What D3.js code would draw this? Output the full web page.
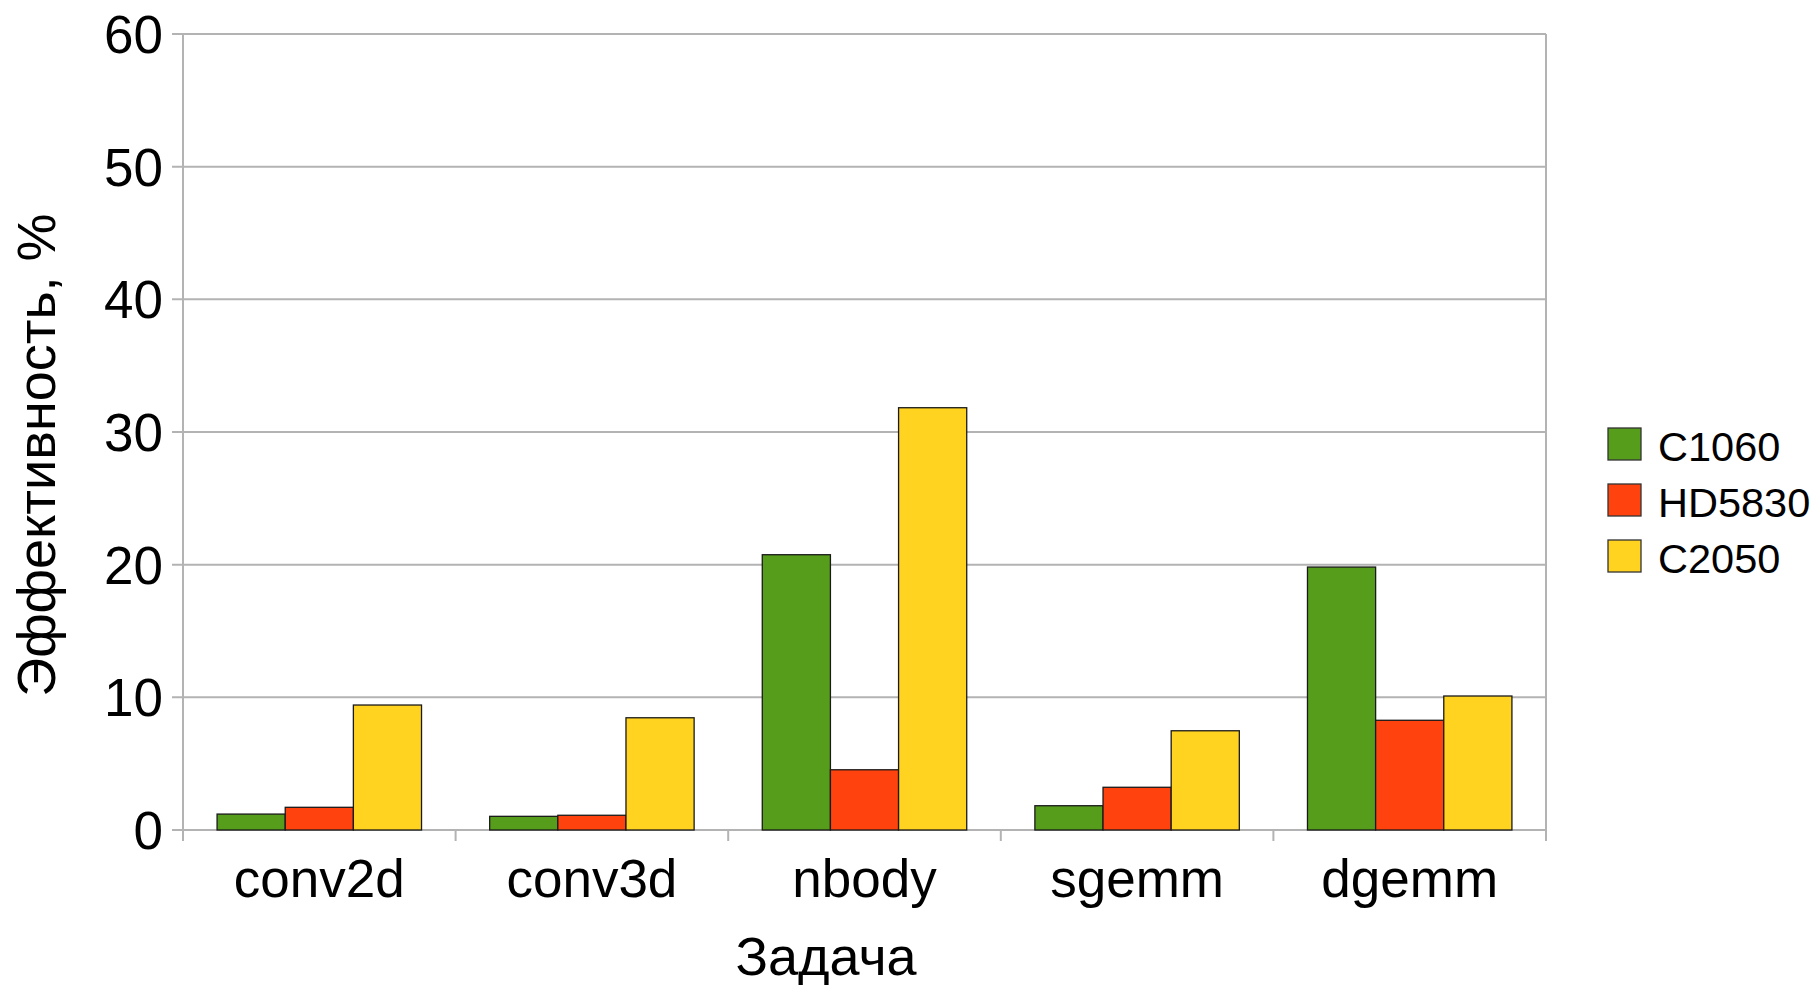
<!DOCTYPE html>
<html>
<head>
<meta charset="utf-8">
<script src="https://cdn.jsdelivr.net/npm/d3@7"></script>
<style>
	body{margin:0;background:#fff;}
	svg{display:block;font-family:"Liberation Sans",Arial,sans-serif;}
</style>
</head>
<body>
<svg id="myGraph" width="1818" height="985"></svg>
<script>
var tasks = ["conv2d","conv3d","nbody","sgemm","dgemm"];
var seriesNames = ["C1060","HD5830","C2050"];
var c1060 = [1.2, 1.03, 20.75, 1.83, 19.82];
var hd5830 = [1.71, 1.11, 4.54, 3.22, 8.27];
var c2050 = [9.42, 8.46, 31.83, 7.48, 10.1];
var yTicks = [0,10,20,30,40,50,60];
var colors = ["#579d1c","#ff420e","#ffd320"];

var seriesValues = [c1060, hd5830, c2050];

var svg = d3.select("#myGraph");
var plotLeft = 183, plotRight = 1546, plotTop = 34, plotBottom = 830;

var x = d3.scaleBand().domain(tasks).range([plotLeft,plotRight]).paddingInner(0.25).paddingOuter(0.125);
var xs = d3.scaleBand().domain(seriesNames).range([0,x.bandwidth()]);
var y = d3.scaleLinear().domain([0,60]).range([plotBottom,plotTop]);

// grid
svg.append("g")
	.selectAll("line")
	.data(yTicks)
	.enter()
	.append("line")
	.attr("x1",plotLeft-11).attr("x2",plotRight)
	.attr("y1",function(d){return y(d);}).attr("y2",function(d){return y(d);})
	.attr("stroke","#b3b3b3").attr("stroke-width",2);

// frame: left axis line and right border
svg.append("line").attr("x1",plotLeft).attr("x2",plotLeft).attr("y1",plotTop).attr("y2",plotBottom+11)
	.attr("stroke","#b3b3b3").attr("stroke-width",2);
svg.append("line").attr("x1",plotRight).attr("x2",plotRight).attr("y1",plotTop).attr("y2",plotBottom+11)
	.attr("stroke","#b3b3b3").attr("stroke-width",2);

// x ticks between categories
var xb = tasks.map(function(t){return x(t)-x.step()*x.paddingOuter();});
svg.append("g")
	.selectAll("line")
	.data(xb)
	.enter()
	.append("line")
	.attr("x1",function(d){return d;}).attr("x2",function(d){return d;})
	.attr("y1",plotBottom).attr("y2",plotBottom+11)
	.attr("stroke","#b3b3b3").attr("stroke-width",2);

// bars
seriesValues.forEach(function(vals,si){
	svg.append("g")
		.selectAll("rect")
		.data(vals)
		.enter()
		.append("rect")
		.attr("x",function(d,i){return x(tasks[i])+xs(seriesNames[si]);})
		.attr("y",function(d){return y(d);})
		.attr("width",xs.bandwidth())
		.attr("height",function(d){return plotBottom-y(d);})
		.attr("fill",colors[si])
		.attr("stroke","#1a1a1a")
		.attr("stroke-width",1.3);
});

// y tick labels
svg.append("g")
	.selectAll("text")
	.data(yTicks)
	.enter()
	.append("text")
	.attr("x",163)
	.attr("y",function(d){return y(d)+19;})
	.attr("text-anchor","end")
	.style("font-size","53px")
	.text(function(d){return d;});

// x tick labels
svg.append("g")
	.selectAll("text")
	.data(tasks)
	.enter()
	.append("text")
	.attr("x",function(d){return x(d)+x.bandwidth()/2;})
	.attr("y",897)
	.attr("text-anchor","middle")
	.style("font-size","53px")
	.text(function(d){return d;});

// axis titles
svg.append("text")
	.attr("x",826).attr("y",975)
	.attr("text-anchor","middle")
	.style("font-size","54px")
	.text("Задача");

svg.append("text")
	.attr("transform","translate(55,455) rotate(-90)")
	.attr("text-anchor","middle")
	.style("font-size","54px")
	.text("Эффективность, %");

// legend
var legend = svg.append("g")
	.selectAll("g")
	.data(seriesNames)
	.enter()
	.append("g")
	.attr("transform",function(d,i){return "translate(1608,"+(428+i*56)+")";});
legend.append("rect")
	.attr("width",33).attr("height",32)
	.attr("fill",function(d,i){return colors[i];})
	.attr("stroke","#333").attr("stroke-width",1.3);
legend.append("text")
	.attr("x",50).attr("y",33)
	.style("font-size","41.5px")
	.text(function(d){return d;});
</script>
</body>
</html>
